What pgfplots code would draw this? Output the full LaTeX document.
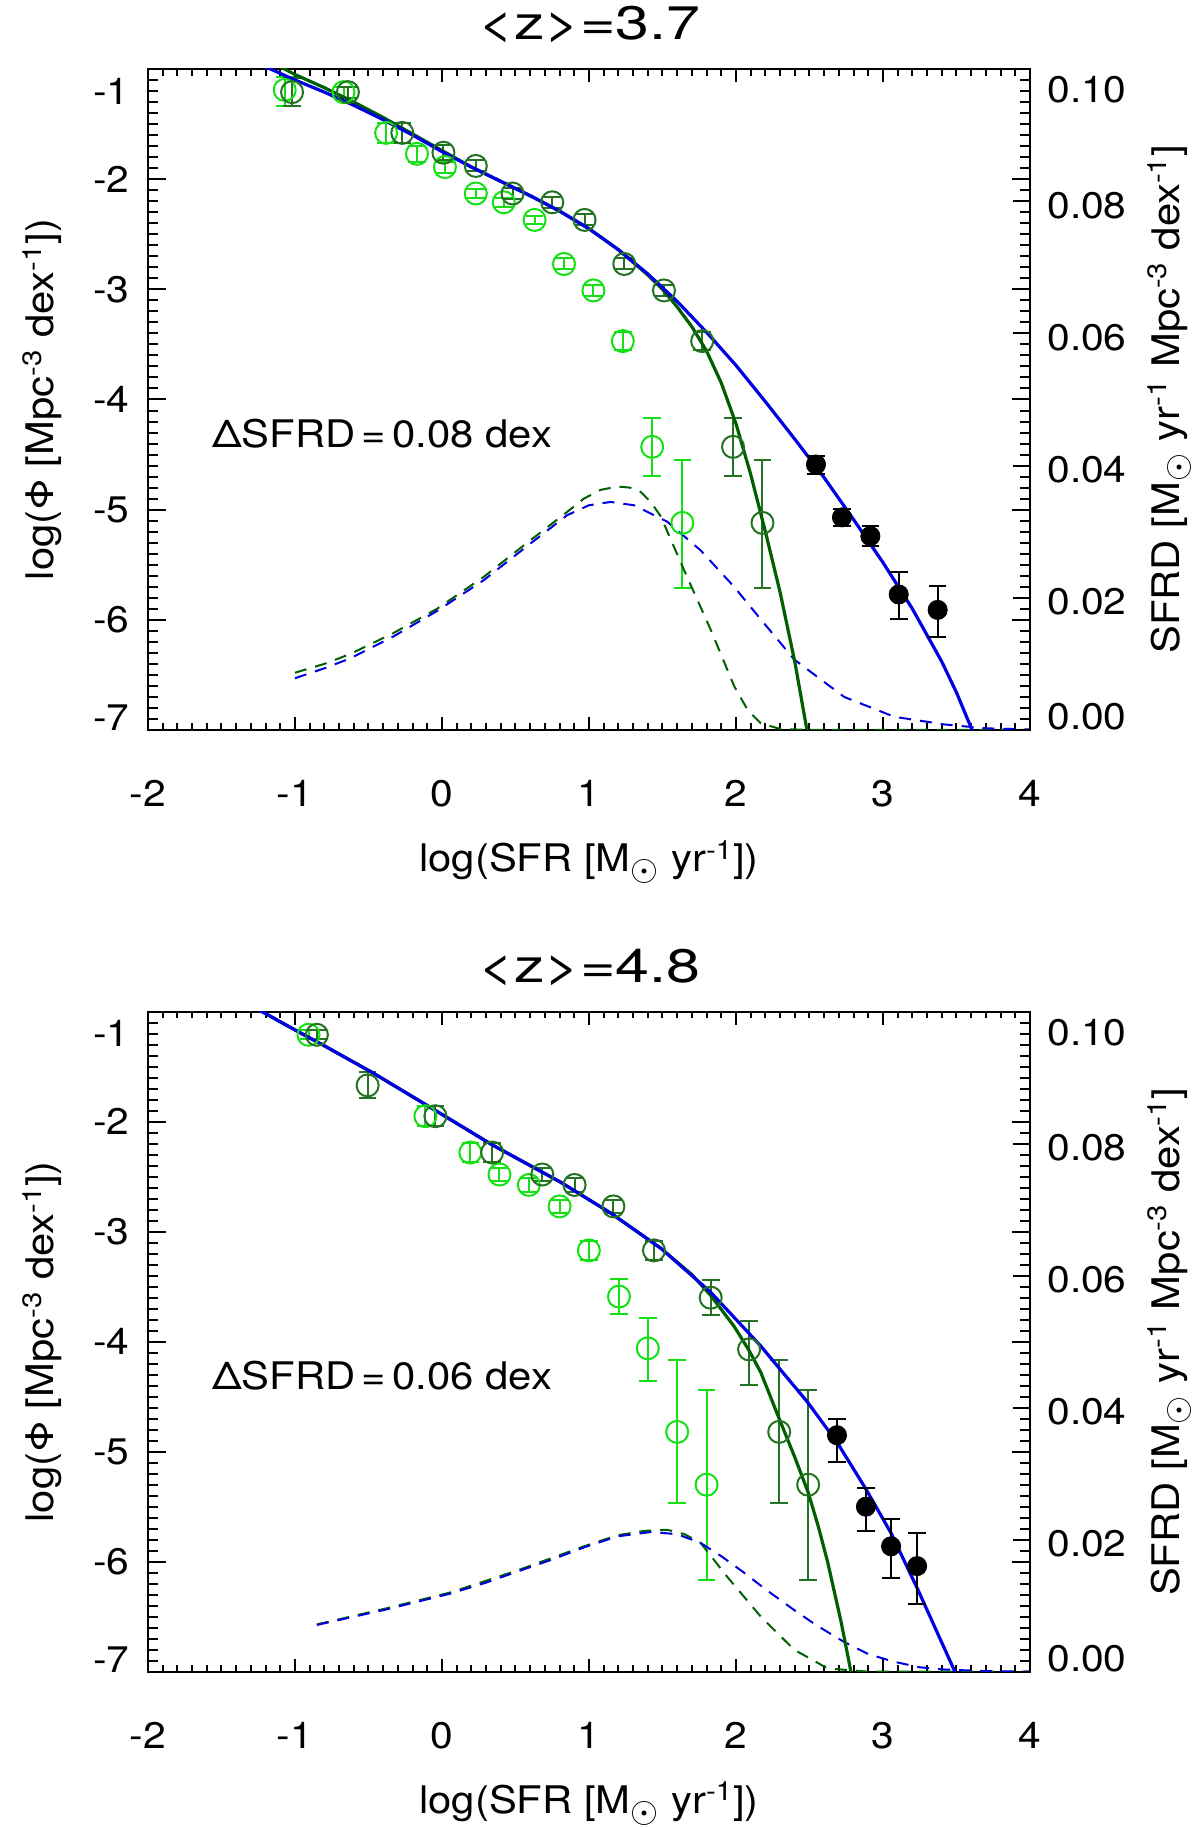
\documentclass[border=0pt]{standalone}
\usepackage{pgfplots}
\pgfplotsset{compat=1.18}
\usepackage{graphicx}
\usepackage{fontspec}
\setmainfont{TeX Gyre Heros}[FakeStretch=1.1]
\newcommand\tickfont{\fontsize{18.5pt}{22pt}\selectfont}
\newcommand\labfont{\fontsize{19pt}{22pt}\selectfont}
\newcommand\titfont{\fontsize{23.5pt}{28pt}\selectfont}
\newcommand\sun{\textsubscript{\scalebox{1.25}{$\odot$}}}
\definecolor{lgreen}{RGB}{20,225,20}
\definecolor{dgreen}{RGB}{35,115,35}
\definecolor{lgline}{RGB}{0,95,0}
\definecolor{myblue}{RGB}{0,0,225}
\pgfplotsset{
  panel/.style={scale only axis, width=441pt, anchor=south west,
    xmin=-2, xmax=4, ymin=-7, ymax=-1,
    xtick={-2,-1,0,1,2,3,4}, xticklabels={-2,-1,0,1,2,3,4},
    ytick={-7,-6,-5,-4,-3,-2,-1},
    yticklabels={{\raisebox{6pt}[\height][\depth]{-7}},-6,-5,-4,-3,-2,{\raisebox{-11pt}[\height][\depth]{-1}}},
    minor x tick num=9, minor y tick num=9,
    xtick pos=both, ytick pos=both, tick align=inside,
    axis line style={line width=1.1pt},
    every tick/.append style={black, line width=1pt},
    xtick style={/pgfplots/major tick length=6.5pt, /pgfplots/minor tick length=3.3pt},
    ytick style={/pgfplots/major tick length=8.8pt, /pgfplots/minor tick length=5pt},
    tick label style={font=\tickfont},
    xticklabel style={inner sep=0pt, anchor=north, yshift=-25pt},
    yticklabel style={inner sep=0pt, anchor=east, xshift=-9pt},
  },
  rpanel/.style={scale only axis, width=441pt, anchor=south west,
    xmin=-2, xmax=4, ymin=0, ymax=0.1,
    axis x line=none, axis y line*=right, tick align=inside,
    ytick={0,0.02,0.04,0.06,0.08,0.1},
    yticklabels={{\raisebox{8.5pt}[\height][\depth]{0.00}},0.02,0.04,0.06,0.08,{\raisebox{-8.5pt}[\height][\depth]{0.10}}},
    minor y tick num=0,
    axis line style={line width=1.1pt},
    every tick/.append style={black, line width=1pt},
    ytick style={/pgfplots/major tick length=8.5pt},
    tick label style={font=\tickfont},
    yticklabel style={inner sep=0pt, anchor=west, xshift=8.5pt, yshift=-2pt},
  },
  errs/.style={error bars/y dir=both, error bars/y explicit,
    error bars/error bar style={line width=1pt},
    error bars/error mark options={rotate=90, line width=1pt, mark size=4.4pt}},
  lgpts/.style={only marks, mark=o, mark size=5.5pt, color=lgreen, mark options={line width=1pt}, errs},
  dgpts/.style={only marks, mark=o, mark size=5.5pt, color=dgreen, mark options={line width=1pt}, errs},
  bkpts/.style={only marks, mark=*, mark size=4.8pt, color=black, errs},
  dashb/.style={myblue, line width=1pt, dash pattern=on 6pt off 4.5pt},
  dashg/.style={lgline, line width=1pt, dash pattern=on 6pt off 4.5pt},
  solb/.style={myblue, line width=1.6pt},
  solg/.style={lgline, line width=1.6pt},
}
\begin{document}
\begin{tikzpicture}
\useasboundingbox (0,0) rectangle (600pt,914pt);
% ================= TOP PANEL =================
\begin{axis}[panel, height=330.5pt, at={(74pt,549pt)}]
\addplot[lgpts] coordinates {
(-1.07,-1.19) += (0,0.12) -= (0,0.15)
(-0.67,-1.21) +- (0,0.05)
(-0.38,-1.58) +- (0,0.09)
(-0.17,-1.77) +- (0,0.07)
(0.02,-1.89) +- (0,0.05)
(0.23,-2.13) +- (0,0.04)
(0.42,-2.21) +- (0,0.04)
(0.63,-2.37) +- (0,0.04)
(0.83,-2.77) +- (0,0.05)
(1.03,-3.01) +- (0,0.05)
(1.23,-3.47) +- (0,0.08)
(1.43,-4.43) +- (0,0.26)
(1.635,-5.12) += (0,0.57) -= (0,0.59)
};
\addplot[dgpts] coordinates {
(-1.02,-1.21) +- (0,0.13)
(-0.64,-1.21) +- (0,0.05)
(-0.27,-1.58) +- (0,0.09)
(0.01,-1.76) +- (0,0.07)
(0.23,-1.88) +- (0,0.05)
(0.48,-2.13) +- (0,0.05)
(0.75,-2.21) +- (0,0.05)
(0.97,-2.37) +- (0,0.05)
(1.24,-2.77) +- (0,0.05)
(1.51,-3.01) +- (0,0.05)
(1.77,-3.47) +- (0,0.08)
(1.98,-4.43) +- (0,0.26)
(2.18,-5.12) += (0,0.57) -= (0,0.59)
};
\addplot[dashg] coordinates {
(-1.0,-6.48) (-0.8,-6.40) (-0.624,-6.31) (-0.33,-6.12) (-0.034,-5.90) (0.284,-5.61)
(0.58,-5.30) (0.852,-5.02) (0.965,-4.90) (1.08,-4.82) (1.193,-4.79) (1.28,-4.80)
(1.352,-4.84) (1.42,-4.93) (1.488,-5.06) (1.647,-5.55) (1.828,-6.09) (1.987,-6.60)
(2.08,-6.82) (2.169,-6.94) (2.3,-6.99) (2.5,-7.0) (4.0,-7.0)
};
\addplot[dashb] coordinates {
(-1.0,-6.53) (-0.8,-6.44) (-0.624,-6.35) (-0.329,-6.15) (-0.034,-5.92) (0.284,-5.64)
(0.58,-5.33) (0.852,-5.05) (1.0,-4.96) (1.147,-4.93) (1.306,-4.96) (1.533,-5.11)
(1.76,-5.37) (1.987,-5.70) (2.19,-6.03) (2.396,-6.36) (2.736,-6.70) (3.077,-6.88)
(3.42,-6.95) (3.7,-6.985) (4.0,-6.995)
};
\addplot[solg] coordinates {
(-1.10,-0.98) (-1.0,-1.05) (-0.8,-1.17) (-0.6,-1.30) (-0.4,-1.44) (-0.2,-1.59)
(0.0,-1.74) (0.2,-1.89) (0.4,-2.02) (0.6,-2.15) (0.8,-2.29) (1.0,-2.45) (1.2,-2.64)
(1.4,-2.87) (1.5,-3.0) (1.6,-3.16) (1.7,-3.34) (1.8,-3.56) (1.9,-3.85) (2.0,-4.22)
(2.1,-4.68) (2.2,-5.20) (2.3,-5.75) (2.4,-6.38) (2.48,-6.98) (2.52,-7.3)
};
\addplot[solb] coordinates {
(-1.20,-0.98) (-1.0,-1.10) (-0.8,-1.21) (-0.6,-1.33) (-0.4,-1.46) (-0.2,-1.60)
(0.0,-1.75) (0.2,-1.89) (0.4,-2.02) (0.6,-2.15) (0.8,-2.29) (1.0,-2.45) (1.2,-2.64)
(1.4,-2.86) (1.6,-3.11) (1.8,-3.39) (2.0,-3.69) (2.2,-4.02) (2.4,-4.36) (2.6,-4.71)
(2.8,-5.09) (3.0,-5.48) (3.2,-5.90) (3.4,-6.38) (3.5,-6.66) (3.6,-6.98) (3.65,-7.15)
};
\addplot[bkpts] coordinates {
(2.544,-4.59) += (0,0.08) -= (0,0.09)
(2.721,-5.07) +- (0,0.08)
(2.914,-5.24) +- (0,0.09)
(3.107,-5.77) += (0,0.20) -= (0,0.22)
(3.372,-5.91) += (0,0.22) -= (0,0.25)
};
\end{axis}
\begin{axis}[rpanel, height=330.5pt, at={(74pt,549pt)}]
\addplot[draw=none] coordinates {(0,0.05)};
\end{axis}
% ================= BOTTOM PANEL =================
\begin{axis}[panel, height=330pt, at={(74pt,78.15pt)}]
\addplot[lgpts] coordinates {
(-0.908,-1.21) +- (0,0.04)
(-0.113,-1.95) +- (0,0.09)
(0.193,-2.28) +- (0,0.09)
(0.391,-2.48) +- (0,0.06)
(0.591,-2.575) +- (0,0.06)
(0.80,-2.77) +- (0,0.06)
(0.999,-3.17) +- (0,0.09)
(1.204,-3.59) +- (0,0.16)
(1.40,-4.06) += (0,0.28) -= (0,0.30)
(1.60,-4.82) +- (0,0.65)
(1.80,-5.30) += (0,0.86) -= (0,0.87)
};
\addplot[dgpts] coordinates {
(-0.851,-1.21) +- (0,0.04)
(-0.506,-1.67) += (0,0.12) -= (0,0.11)
(-0.045,-1.95) +- (0,0.09)
(0.341,-2.28) +- (0,0.09)
(0.682,-2.48) +- (0,0.06)
(0.902,-2.575) +- (0,0.06)
(1.166,-2.77) +- (0,0.06)
(1.442,-3.17) +- (0,0.09)
(1.828,-3.60) +- (0,0.16)
(2.089,-4.07) += (0,0.26) -= (0,0.32)
(2.294,-4.82) +- (0,0.65)
(2.491,-5.30) += (0,0.86) -= (0,0.87)
};
\addplot[dashg] coordinates {
(-0.851,-6.57) (-0.397,-6.43) (0.057,-6.28) (0.512,-6.08) (0.966,-5.86) (1.193,-5.76)
(1.374,-5.72) (1.533,-5.71) (1.65,-5.75) (1.76,-5.83) (1.942,-6.14) (2.169,-6.50)
(2.396,-6.80) (2.623,-6.97) (2.9,-7.0) (4.0,-7.0)
};
\addplot[dashb] coordinates {
(-0.851,-6.575) (-0.6,-6.50) (-0.397,-6.44) (-0.2,-6.375) (0.057,-6.29) (0.3,-6.19)
(0.512,-6.09) (0.75,-5.98) (0.966,-5.87) (1.193,-5.77) (1.42,-5.73) (1.60,-5.75)
(1.76,-5.83) (1.9,-5.95) (2.055,-6.10) (2.2,-6.25) (2.396,-6.44) (2.55,-6.58)
(2.736,-6.73) (2.9,-6.84) (3.077,-6.91) (3.25,-6.96) (3.418,-6.98) (3.7,-6.995) (4.0,-7.0)
};
\addplot[solg] coordinates {
(-1.25,-0.98) (-1.0,-1.166) (-0.8,-1.31) (-0.465,-1.56) (-0.079,-1.87) (0.341,-2.21)
(0.807,-2.55) (1.147,-2.83) (1.488,-3.15) (1.7,-3.39) (1.828,-3.58) (1.987,-3.86)
(2.089,-4.08) (2.169,-4.28) (2.294,-4.70) (2.4,-5.05) (2.491,-5.37) (2.56,-5.68)
(2.623,-6.00) (2.714,-6.54) (2.782,-7.0) (2.81,-7.2)
};
\addplot[solb] coordinates {
(-1.25,-0.98) (-1.0,-1.166) (-0.8,-1.31) (-0.465,-1.56) (-0.079,-1.87) (0.341,-2.21)
(0.807,-2.55) (1.147,-2.83) (1.488,-3.15) (1.828,-3.55) (2.169,-4.04) (2.487,-4.55)
(2.69,-4.92) (2.884,-5.34) (3.055,-5.74) (3.236,-6.25) (3.486,-6.99) (3.53,-7.15)
};
\addplot[bkpts] coordinates {
(2.687,-4.85) += (0,0.145) -= (0,0.24)
(2.884,-5.50) += (0,0.17) -= (0,0.22)
(3.055,-5.86) += (0,0.25) -= (0,0.29)
(3.232,-6.04) += (0,0.30) -= (0,0.34)
};
\end{axis}
\begin{axis}[rpanel, height=330pt, at={(74pt,78.15pt)}]
\addplot[draw=none] coordinates {(0,0.05)};
\end{axis}
% ================= TEXT =================
\node[font=\titfont, anchor=base, inner sep=0pt] at (294.75pt,894pt) {\scalebox{1.18}[1]{<z>=3.7}};
\node[font=\titfont, anchor=base, inner sep=0pt] at (294.75pt,422.6pt) {\scalebox{1.18}[1]{<z>=4.8}};
\node[font=\labfont, anchor=base, inner sep=0pt] at (294.5pt,478.2pt) {log(SFR [M\sun\ yr\textsuperscript{-1}])};
\node[font=\labfont, anchor=base, inner sep=0pt] at (294.5pt,7.3pt) {log(SFR [M\sun\ yr\textsuperscript{-1}])};
\node[font=\labfont, anchor=base, inner sep=0pt, rotate=90] at (27pt,714.25pt) {log(Φ [Mpc\textsuperscript{-3} dex\textsuperscript{-1}])};
\node[font=\labfont, anchor=base, inner sep=0pt, rotate=90] at (27pt,243.15pt) {log(Φ [Mpc\textsuperscript{-3} dex\textsuperscript{-1}])};
\node[font=\labfont, anchor=base, inner sep=0pt, rotate=90] at (589.5pt,714.25pt) {SFRD [M\sun\ yr\textsuperscript{-1} Mpc\textsuperscript{-3} dex\textsuperscript{-1}]};
\node[font=\labfont, anchor=base, inner sep=0pt, rotate=90] at (589.5pt,243.15pt) {SFRD [M\sun\ yr\textsuperscript{-1} Mpc\textsuperscript{-3} dex\textsuperscript{-1}]};
\node[font=\labfont, anchor=base west, inner sep=0pt] at (105.85pt,690.35pt) {ΔSFRD\,=\,0.08 dex};
\node[font=\labfont, anchor=base west, inner sep=0pt] at (105.85pt,219pt) {ΔSFRD\,=\,0.06 dex};
\end{tikzpicture}
\end{document}
